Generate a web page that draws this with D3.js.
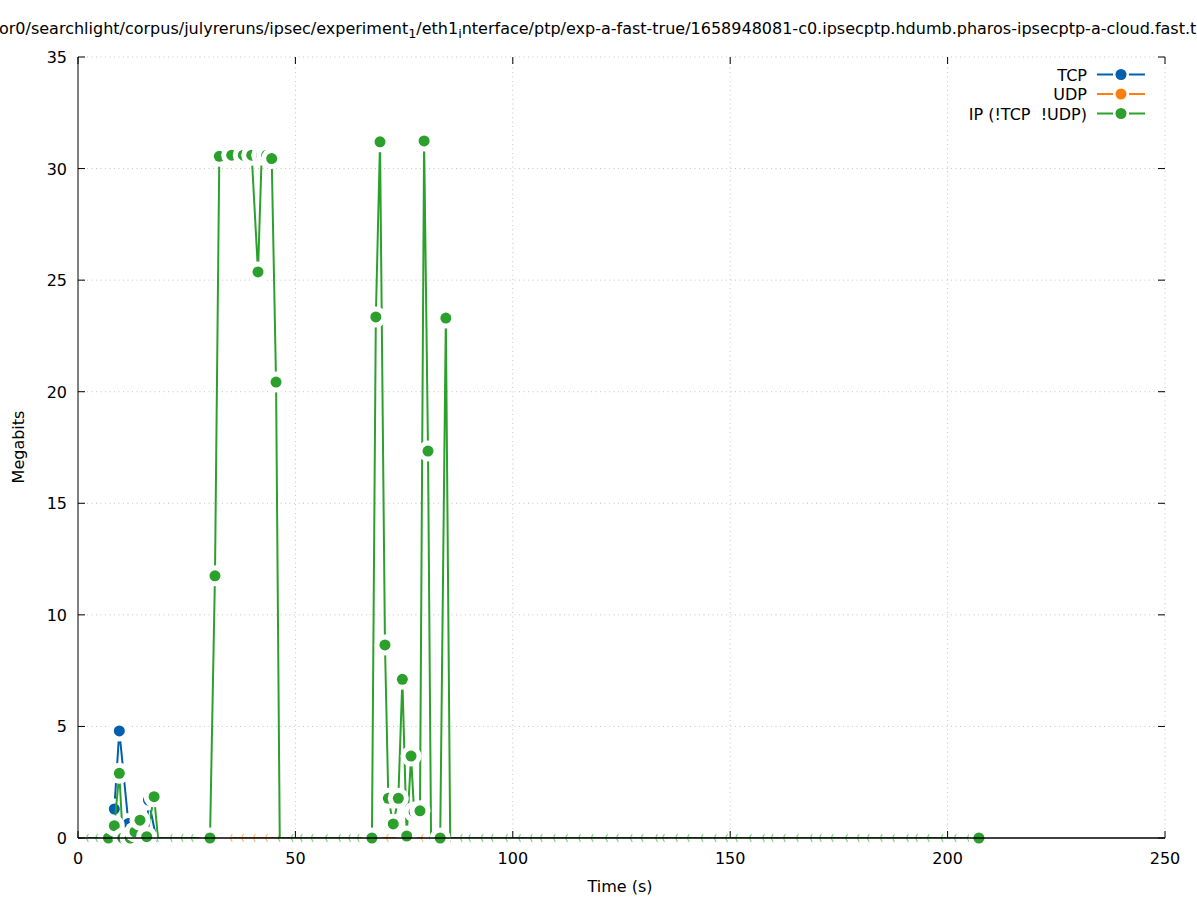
<!DOCTYPE html>
<html>
<head>
<meta charset="utf-8">
<script src="https://cdn.jsdelivr.net/npm/d3@7"></script>
<style>
  html, body { margin: 0; padding: 0; background: #fff; }
  svg { display: block; font-family: "DejaVu Sans", sans-serif; }
  text { white-space: pre; }
</style>
</head>
<body>
<svg id="chart" width="1197" height="900"></svg>
<script>
// ---------------- data ----------------
const xTicks = [0, 50, 100, 150, 200, 250];
const yTicks = [0, 5, 10, 15, 20, 25, 30, 35];

const seriesNames = ["TCP", "UDP", "IP (!TCP  !UDP)"];
const seriesColors = ["#0060ad", "#ff7f0e", "#2ca02c"];

// TCP (Megabits per sample) with markers
const tcpTime = [7.0, 8.35, 9.5, 11.6, 16.2];
const tcpMbit = [0, 1.3, 4.8, 0.65, 1.7];
// TCP zero samples (no visible marker)
const tcpZeroTime = [13.1, 15.8, 18.0];

// UDP: only zero samples visible
const udpZeroTime = [35.4, 38.0, 40.7, 43.5, 71.3, 79.3];

// IP (!TCP !UDP) samples with markers
const ipTime = [7.0, 8.35, 9.5, 10.3, 12.0, 13.1, 14.26, 15.8, 17.5,
  30.36, 31.5, 32.5, 35.35, 38.02, 39.95, 41.4, 42.25, 43.4, 44.55, 45.55,
  67.6, 68.5, 69.46, 70.6, 71.37, 72.5, 73.67, 74.6, 75.6, 76.6, 77.3, 78.65,
  79.6, 80.5, 83.3, 84.6, 207.2];
const ipMbit = [0, 0.55, 2.9, 0, 0, 0.28, 0.8, 0.06, 1.85,
  0, 11.75, 30.55, 30.6, 30.6, 30.6, 25.37, 30.6, 30.6, 30.45, 20.43,
  0, 23.35, 31.2, 8.65, 1.78, 0.63, 1.78, 7.11, 0.09, 3.67, 1.17, 1.22,
  31.24, 17.34, 0, 23.3, 0];
// IP zero samples (no visible marker)
const ipZeroTime = [2.3, 4.4, 18.4, 21.6, 24.1, 26.4, 46.4, 49.4, 51.5, 54.0,
  57.3, 60.3, 62.6, 64.6, 81.2, 85.6, 88.3, 90.2, 93.1, 95.4, 98.7, 101.7,
  104.4, 106.7, 109.7, 112.5, 115.5, 118.4, 121.7, 124.2, 127.4, 129.9, 133.2,
  134.8, 137.8, 140.5, 143.7, 146.7, 149.3, 151.6, 154.8, 157.8, 159.8, 162.6,
  165.6, 168.8, 170.9, 173.6, 176.9, 179.6, 181.9, 184.9, 187.7, 190.9, 193.0,
  195.7, 198.9, 201.9, 204.9];

// ---------------- layout ----------------
const L = 78, R = 1165, T = 57, B = 838;
const x = d3.scaleLinear().domain([0, 250]).range([L, R]);
const y = d3.scaleLinear().domain([0, 35]).range([B, T]);

const svg = d3.select("#chart");
const FONT = 16;
const DOT_R = 5.5, HALO_R = 10.5;

svg.append("defs").append("clipPath").attr("id", "plotclip")
  .append("rect").attr("x", L).attr("y", T - 20).attr("width", R - L).attr("height", B - T + 20);

// grid
const grid = svg.append("g").attr("stroke", "#c4c4c4").attr("stroke-width", 1)
  .attr("stroke-dasharray", "1,3.5");
xTicks.forEach(v => { if (v > 0) grid.append("line").attr("x1", x(v)).attr("x2", x(v)).attr("y1", B).attr("y2", T); });
yTicks.forEach(v => { if (v > 0) grid.append("line").attr("x1", L).attr("x2", R).attr("y1", y(v)).attr("y2", y(v)); });

// series drawing helpers
const lineGen = d3.line().x(d => x(d[0])).y(d => y(d[1]));
const plot = svg.append("g");

function drawSeries(points, zeroTimes, color) {
  const all = points.concat(zeroTimes.map(t => [t, 0])).sort((a, b) => a[0] - b[0]);
  plot.append("path").attr("d", lineGen(all)).attr("fill", "none")
    .attr("stroke", color).attr("stroke-width", 2).attr("stroke-linejoin", "round")
    .attr("clip-path", "url(#plotclip)");
  // zero-sample remnants
  zeroTimes.forEach(t => {
    const cx = x(t), cy = y(0), r = 6;
    const a1 = 220 * Math.PI / 180, a2 = 140 * Math.PI / 180;
    const p1 = [cx + 5 + r * Math.cos(a1), cy + r * Math.sin(a1)];
    const p2 = [cx + 5 + r * Math.cos(a2), cy + r * Math.sin(a2)];
    plot.append("path")
      .attr("d", `M${p1[0]},${p1[1]} A${r},${r} 0 0 0 ${p2[0]},${p2[1]}`)
      .attr("fill", "none").attr("stroke", color).attr("stroke-width", 1.2)
      .attr("stroke-opacity", 0.55);
  });
  points.forEach(d => {
    plot.append("circle").attr("cx", x(d[0])).attr("cy", y(d[1])).attr("r", HALO_R).attr("fill", "#fff");
    plot.append("circle").attr("cx", x(d[0])).attr("cy", y(d[1])).attr("r", DOT_R).attr("fill", color);
  });
}

drawSeries(tcpTime.map((t, i) => [t, tcpMbit[i]]), tcpZeroTime, seriesColors[0]);
drawSeries([], udpZeroTime, seriesColors[1]);
drawSeries(ipTime.map((t, i) => [t, ipMbit[i]]), ipZeroTime, seriesColors[2]);

// border (left + bottom) and mirror ticks
const axes = svg.append("g").attr("stroke", "#000").attr("fill", "none");
axes.append("line").attr("x1", L).attr("x2", L).attr("y1", T).attr("y2", B).attr("stroke-width", 1);
axes.append("line").attr("x1", L).attr("x2", R).attr("y1", B).attr("y2", B).attr("stroke-width", 1.5);
const TK = 7;
xTicks.forEach(v => {
  axes.append("line").attr("x1", x(v)).attr("x2", x(v)).attr("y1", B).attr("y2", B - TK);
  axes.append("line").attr("x1", x(v)).attr("x2", x(v)).attr("y1", T).attr("y2", T + TK);
});
yTicks.forEach(v => {
  axes.append("line").attr("x1", L).attr("x2", L + TK).attr("y1", y(v)).attr("y2", y(v));
  axes.append("line").attr("x1", R).attr("x2", R - TK).attr("y1", y(v)).attr("y2", y(v));
});

// tick labels
const lab = svg.append("g").attr("font-size", FONT).attr("fill", "#000");
xTicks.forEach(v => lab.append("text").attr("x", x(v)).attr("y", B + 26).attr("text-anchor", "middle").text(v));
yTicks.forEach(v => lab.append("text").attr("x", L - 11).attr("y", y(v) + 6).attr("text-anchor", "end").text(v));

// axis titles
lab.append("text").attr("x", 620).attr("y", 892).attr("text-anchor", "middle").text("Time (s)");
lab.append("text").attr("transform", "translate(24,447) rotate(-90)").attr("text-anchor", "middle").text("Megabits");

// title (gnuplot enhanced text with subscripts)
const title = lab.append("text").attr("x", -1).attr("y", 34);
title.append("tspan").text("or0/searchlight/corpus/julyreruns/ipsec/experiment");
title.append("tspan").attr("font-size", FONT * 0.8).attr("dy", 4).text("1");
title.append("tspan").attr("dy", -4).text("/eth1");
title.append("tspan").attr("font-size", FONT * 0.8).attr("dy", 4).text("i");
title.append("tspan").attr("dy", -4).text("nterface/ptp/exp-a-fast-true/1658948081-c0.ipsecptp.hdumb.pharos-ipsecptp-a-cloud.fast.t");

// legend
const leg = svg.append("g");
const legY = [74.5, 94, 113.5];
seriesNames.forEach((name, i) => {
  const ly = legY[i];
  leg.append("text").attr("x", 1087).attr("y", ly + 6).attr("text-anchor", "end")
    .attr("font-size", FONT).text(name);
  leg.append("line").attr("x1", 1097).attr("x2", 1113).attr("y1", ly).attr("y2", ly)
    .attr("stroke", seriesColors[i]).attr("stroke-width", 2);
  leg.append("line").attr("x1", 1129).attr("x2", 1145).attr("y1", ly).attr("y2", ly)
    .attr("stroke", seriesColors[i]).attr("stroke-width", 2);
  leg.append("circle").attr("cx", 1121).attr("cy", ly).attr("r", DOT_R).attr("fill", seriesColors[i]);
});
</script>
</body>
</html>
